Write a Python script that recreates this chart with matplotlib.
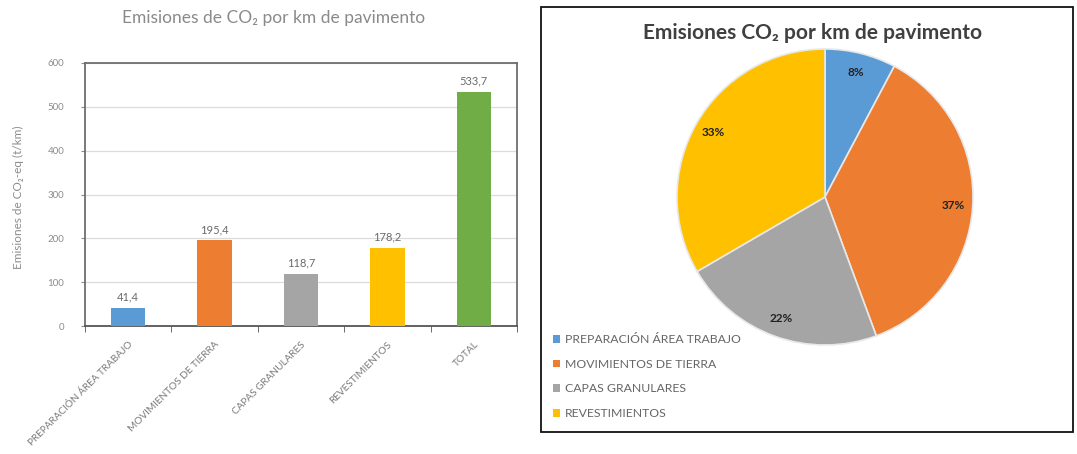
import matplotlib
matplotlib.use("Agg")
import matplotlib.pyplot as plt
from matplotlib.patches import Rectangle, Patch

plt.rcParams['font.family'] = ['Lato', 'DejaVu Sans']

# ---- data ----
categories = ["PREPARACIÓN ÁREA TRABAJO", "MOVIMIENTOS DE TIERRA",
              "CAPAS GRANULARES", "REVESTIMIENTOS", "TOTAL"]
values = [41.4, 195.4, 118.7, 178.2, 533.7]
value_labels = ["41,4", "195,4", "118,7", "178,2", "533,7"]
pie_categories = categories[:4]
pie_values = values[:4]
yticks = [0, 100, 200, 300, 400, 500, 600]
colors = ["#5B9BD5", "#ED7D31", "#A5A5A5", "#FFC000", "#70AD47"]

bar_title = "Emisiones de CO₂ por km de pavimento"
pie_title = "Emisiones CO₂ por km de pavimento"
ylabel = "Emisiones de CO₂-eq (t/km)"

W, H = 1077, 454
fig = plt.figure(figsize=(W / 100, H / 100), dpi=100)
fig.patch.set_facecolor("white")

def fx(px):
    return px / W

def fy(py):
    return 1 - py / H

# ---- bar chart ----
ax = fig.add_axes([fx(85), fy(326), fx(517) - fx(85), fy(63) - fy(326)])
x = list(range(len(categories)))
ax.bar(x, values, width=0.4, color=colors, zorder=3)
ax.set_xlim(-0.5, len(categories) - 0.5)
ax.set_ylim(0, 600)
ax.set_yticks(yticks)
ax.set_yticklabels([str(t) for t in yticks], fontsize=7, color="#8c8c8c")
ax.grid(axis="y", color="#dcdcdc", linewidth=0.9, zorder=0)
for s in ax.spines.values():
    s.set_color("#6e6e6e")
    s.set_linewidth(1.3)
ax.spines["bottom"].set_color("#555555")
ax.tick_params(axis="y", length=3, color="#8c8c8c", pad=12)
ax.set_xticks(x)
ax.set_xticklabels(categories, rotation=45, ha="right", rotation_mode="anchor",
                   fontsize=7.2, color="#7a7a7a")
ax.tick_params(axis="x", length=0, pad=10)
ax.set_xticks([i - 0.5 for i in range(len(categories) + 1)], minor=True)
ax.tick_params(axis="x", which="minor", length=4, color="#555555")
for xi, v, lab in zip(x, values, value_labels):
    ax.text(xi, v + 12, lab, ha="center", va="bottom", fontsize=8, color="#6a6a6a")
fig.text(fx(18), fy(197), ylabel, rotation=90, ha="center", va="center",
         fontsize=8.5, color="#8c8c8c")
fig.text(fx(274), fy(18), bar_title, ha="center", va="center",
         fontsize=12.5, color="#8a8a8a")

# ---- right panel ----
fig.patches.append(Rectangle((fx(541), fy(432)), fx(1073) - fx(541), fy(7) - fy(432),
                             transform=fig.transFigure, fill=False,
                             edgecolor="#111111", linewidth=1.3))
fig.text(fx(813), fy(33), pie_title, ha="center", va="center",
         fontsize=15, fontweight="bold", color="#404040")

r = 148
pax = fig.add_axes([fx(825 - r), fy(197 + r), fx(2 * r), 2 * r / H])
wedges, texts, autotexts = pax.pie(
    pie_values, colors=colors[:4], startangle=90, counterclock=False,
    autopct="%.0f%%", pctdistance=0.87, radius=1,
    wedgeprops=dict(edgecolor="#e8e8e8", linewidth=1.2),
    textprops=dict(fontsize=8.5, fontweight="bold", color="#222222"))
pax.set_xlim(-1, 1)
pax.set_ylim(-1, 1)
pax.set_aspect("equal")
pax.axis("off")

handles = [Patch(facecolor=c, edgecolor="none") for c in colors[:4]]
fig.legend(handles, pie_categories, loc="upper left",
           bbox_to_anchor=(fx(553), fy(334)), frameon=False,
           fontsize=8.8, labelcolor="#666666", handlelength=0.6, handleheight=0.6,
           handletextpad=0.35, labelspacing=1.12, borderpad=0, borderaxespad=0)

fig.savefig("out.png", dpi=100, facecolor="white")
